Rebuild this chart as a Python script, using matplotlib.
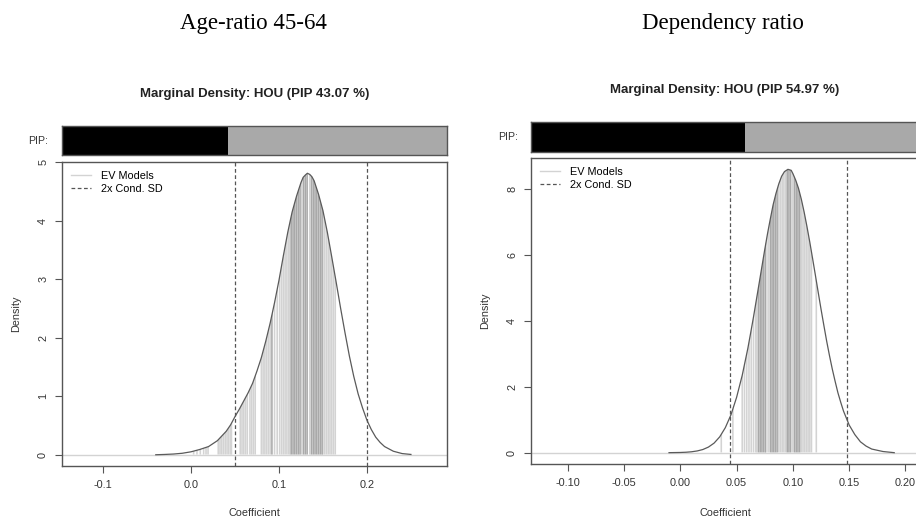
import numpy as np
import matplotlib
matplotlib.use("Agg")
from matplotlib import pyplot as plt
from matplotlib.patches import Polygon

plt.rcParams['font.family'] = ['Liberation Sans', 'DejaVu Sans']

# ---- Age-ratio 45-64 (left panel) ----
age_title = "Age-ratio 45-64"
age_pip = 43.07
age_x = [-0.04, -0.03, -0.02, -0.01, 0.0, 0.01, 0.02, 0.03, 0.04, 0.045, 0.05,
         0.055, 0.06, 0.065, 0.07, 0.075, 0.08, 0.085, 0.09, 0.095, 0.10,
         0.105, 0.11, 0.115, 0.12, 0.125, 0.1275, 0.13, 0.1323, 0.135, 0.1375,
         0.14, 0.145, 0.15, 0.155, 0.16, 0.165, 0.17, 0.175, 0.18, 0.185, 0.19,
         0.195, 0.20, 0.205, 0.21, 0.215, 0.22, 0.23, 0.24, 0.25]
age_dens = [0.0, 0.005, 0.012, 0.025, 0.05, 0.09, 0.14, 0.24, 0.40, 0.51, 0.65,
            0.78, 0.92, 1.06, 1.22, 1.43, 1.66, 1.94, 2.25, 2.60, 2.98,
            3.40, 3.80, 4.15, 4.42, 4.65, 4.74, 4.78, 4.81, 4.79, 4.75,
            4.68, 4.45, 4.17, 3.80, 3.38, 2.95, 2.51, 2.09, 1.69, 1.34, 1.04,
            0.80, 0.59, 0.43, 0.30, 0.21, 0.14, 0.06, 0.02, 0.005]
age_sd_bounds = [0.0503, 0.2]
# expected values of individual models (low / high posterior weight)
age_ev_low = [0.003, 0.0068, 0.0106, 0.0144, 0.0171, 0.0194, 0.031, 0.033,
              0.035, 0.037, 0.039, 0.041, 0.043, 0.045, 0.046, 0.056, 0.058,
              0.060, 0.062, 0.064, 0.067, 0.069, 0.071, 0.073, 0.080, 0.082,
              0.084, 0.086, 0.088, 0.090, 0.095, 0.098, 0.1008, 0.103, 0.105,
              0.107, 0.109, 0.111, 0.1125, 0.126, 0.135, 0.150, 0.152, 0.154,
              0.156, 0.158, 0.160, 0.162, 0.164]
age_ev_high = [0.092, 0.114, 0.116, 0.118, 0.120, 0.122, 0.124, 0.128, 0.130,
               0.132, 0.137, 0.139, 0.141, 0.143, 0.145, 0.147, 0.149]
age_xticks = [-0.1, 0.0, 0.1, 0.2]
age_xticklabels = ["-0.1", "0.0", "0.1", "0.2"]
age_yticks = [0, 1, 2, 3, 4, 5]

# ---- Dependency ratio (right panel) ----
dep_title = "Dependency ratio"
dep_pip = 54.97
dep_x = [-0.01, 0.0, 0.005, 0.01, 0.015, 0.02, 0.025, 0.03, 0.035, 0.04, 0.045,
         0.05, 0.055, 0.06, 0.0625, 0.065, 0.0675, 0.07, 0.075, 0.0775, 0.08,
         0.0825, 0.085, 0.0875, 0.09, 0.0925, 0.0956, 0.0985, 0.10, 0.1025,
         0.105, 0.1075, 0.11, 0.1125, 0.115, 0.1175, 0.12, 0.1225, 0.125,
         0.1275, 0.13, 0.1325, 0.135, 0.1375, 0.14, 0.1425, 0.145, 0.15, 0.155,
         0.16, 0.165, 0.17, 0.18, 0.19]
dep_dens = [0.0, 0.006, 0.013, 0.027, 0.052, 0.095, 0.17, 0.29, 0.48, 0.76, 1.15,
            1.68, 2.35, 3.17, 3.64, 4.12, 4.63, 5.14, 6.17, 6.66, 7.11,
            7.54, 7.88, 8.17, 8.40, 8.54, 8.61, 8.58, 8.48, 8.28,
            8.03, 7.70, 7.31, 6.87, 6.40, 5.90, 5.39, 4.87, 4.36,
            3.87, 3.39, 2.95, 2.54, 2.17, 1.82, 1.53, 1.26, 0.84, 0.55,
            0.33, 0.20, 0.11, 0.035, 0.0]
dep_sd_bounds = [0.0438, 0.148]
dep_ev_low = [0.0364, 0.0467, 0.055, 0.057, 0.059, 0.061, 0.063, 0.065, 0.067,
              0.068, 0.076, 0.078, 0.0875, 0.089, 0.0905, 0.092, 0.0935, 0.100,
              0.1075, 0.109, 0.1105, 0.112, 0.1135, 0.115, 0.1165, 0.1208]
dep_ev_high = [0.0695, 0.071, 0.0725, 0.074, 0.0755, 0.080, 0.0815, 0.083,
               0.0845, 0.086, 0.095, 0.0965, 0.098, 0.1015, 0.103, 0.1045,
               0.106]
dep_xticks = [-0.10, -0.05, 0.0, 0.05, 0.10, 0.15, 0.20]
dep_xticklabels = ["-0.10", "-0.05", "0.00", "0.05", "0.10", "0.15", "0.20"]
dep_yticks = [0, 2, 4, 6, 8]

W, H = 916, 518
fig = plt.figure(figsize=(W / 100, H / 100), dpi=100)

EDGE = "#555555"
LIGHT = "#d3d3d3"
DARK = "#a9a9a9"


def px_axes(x0, y0, x1, y1):
    return fig.add_axes([x0 / W, 1 - y1 / H, (x1 - x0) / W, (y1 - y0) / H])


def style_box(ax):
    for s in ax.spines.values():
        s.set_color(EDGE)
        s.set_linewidth(1.0)


def draw_panel(box, bar_box, xlim, x, dens, ev_low, ev_high, sd_bounds, pip,
               xticks, xticklabels, yticks, title, title_xy, sub_xy, pip_xy,
               ylab_x, xlab_y):
    # PIP bar
    bax = px_axes(*bar_box)
    bax.barh(0, 1, height=1, color=DARK, edgecolor="none")
    bax.barh(0, pip / 100, height=1, color="black", edgecolor="none")
    bax.set_xlim(0, 1)
    bax.set_ylim(-0.5, 0.5)
    bax.set_xticks([])
    bax.set_yticks([])
    style_box(bax)

    ax = px_axes(*box)
    top = max(dens)
    ax.set_xlim(*xlim)
    ax.set_ylim(-0.04 * top, 1.04 * top)

    ax.axhline(0, color=LIGHT, lw=1.0, zorder=1)

    clip = Polygon(list(zip(x, dens)) + [(x[-1], 0), (x[0], 0)],
                   closed=True, transform=ax.transData)
    for xs, col in [(ev_low, LIGHT), (ev_high, DARK)]:
        lc = ax.vlines(xs, 0, top * 1.1, color=col, lw=1.15, zorder=2)
        lc.set_snap(False)
        lc.set_clip_path(clip)

    ax.plot(x, dens, color="#5a5a5a", lw=0.9, zorder=3)
    for b in sd_bounds:
        ax.axvline(b, color="#555555", lw=0.9, ls=(0, (3, 2)), zorder=3)

    # legend
    ax.plot([], [], color=LIGHT, lw=1.0, label="EV Models")
    ax.plot([], [], color="#555555", lw=0.9, ls=(0, (3, 2)), label="2x Cond. SD")
    ax.legend(loc="upper left", frameon=False, fontsize=7.8, handlelength=1.9,
              handletextpad=0.9, labelspacing=0.3, borderpad=0.3,
              borderaxespad=0.5)

    ax.set_xticks(xticks)
    ax.set_xticklabels(xticklabels)
    ax.set_yticks(yticks)
    ax.set_yticklabels([str(t) for t in yticks], rotation=90, va="center")
    ax.tick_params(direction="out", length=5, width=0.8, color=EDGE,
                   labelsize=7.8, labelcolor="#333333", pad=5)
    style_box(ax)

    fig.text(title_xy[0] / W, 1 - title_xy[1] / H, title, ha="center",
             va="center", fontsize=16.5, family=["Liberation Serif"])
    fig.text(sub_xy[0] / W, 1 - sub_xy[1] / H,
             "Marginal Density: HOU (PIP %.2f %%)" % pip, ha="center",
             va="center", fontsize=9.5, fontweight="bold", color="#222222")
    fig.text(pip_xy[0] / W, 1 - pip_xy[1] / H, "PIP:", ha="center",
             va="center", fontsize=7.6, color="#333333")
    fig.text(ylab_x / W, 1 - ((box[1] + box[3]) / 2) / H, "Density",
             rotation=90, ha="center", va="center", fontsize=7.8,
             color="#333333")
    fig.text(((box[0] + box[2]) / 2) / W, 1 - xlab_y / H, "Coefficient",
             ha="center", va="center", fontsize=7.8, color="#333333")


draw_panel((62, 162, 447, 466), (62, 126, 447, 155), (-0.1466, 0.291),
           age_x, age_dens, age_ev_low, age_ev_high, age_sd_bounds, age_pip,
           age_xticks, age_xticklabels, age_yticks, age_title,
           (253, 23), (255, 94), (38, 141), 16, 513)

draw_panel((531, 158, 920, 464), (531, 122, 920, 152), (-0.1326, 0.2129),
           dep_x, dep_dens, dep_ev_low, dep_ev_high, dep_sd_bounds, dep_pip,
           dep_xticks, dep_xticklabels, dep_yticks, dep_title,
           (723, 23), (725, 90), (508, 137), 485, 513)

fig.savefig("out.png", dpi=100)
